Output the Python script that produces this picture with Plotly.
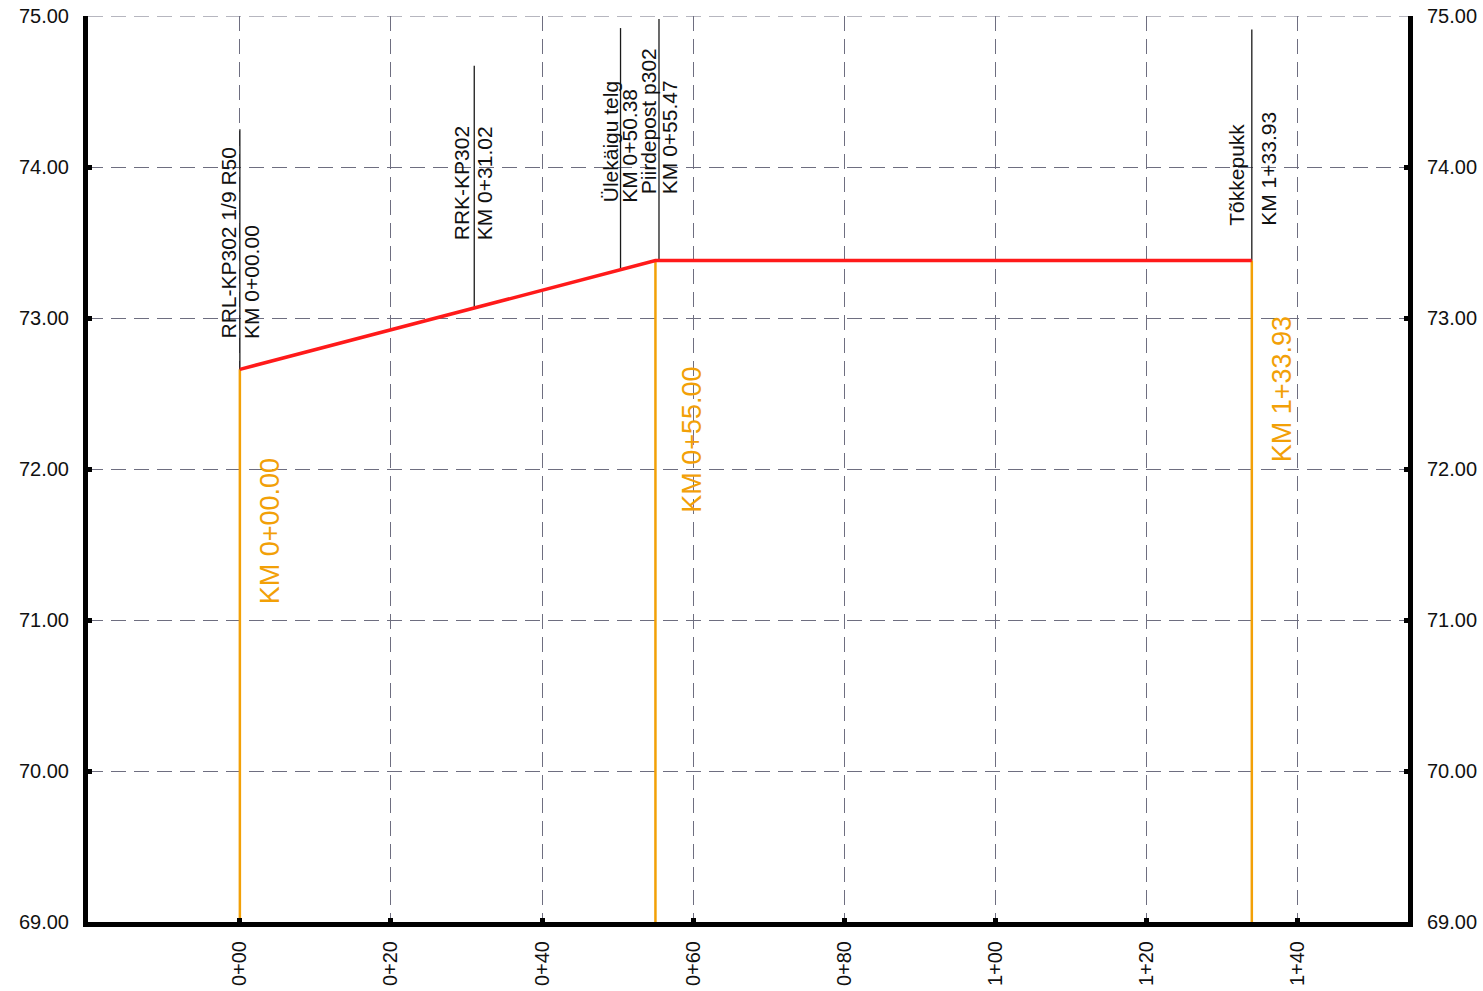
import numpy as np
import plotly.graph_objects as go

# ---- data ----
profile_ch = [0.0, 55.0, 133.93]
profile_el = [72.66, 73.38, 73.38]

marker_ch = [0.0, 31.02, 50.38, 55.47, 133.93]
marker_top = [74.25, 74.67, 74.92, 74.98, 74.91]
marker_name = ["RRL-KP302 1/9 R50", "RRK-KP302", "Ülekäigu telg", "Piirdepost p302", "Tõkkepukk"]
marker_km = ["KM 0+00.00", "KM 0+31.02", "KM 0+50.38", "KM 0+55.47", "KM 1+33.93"]
marker_label_base = [72.85, 73.50, 73.75, 73.81, 73.60]

break_ch = [0.0, 55.0, 133.93]
break_label = ["KM 0+00.00", "KM 0+55.00", "KM 1+33.93"]
break_label_base = [71.09, 71.70, 72.03]

x_tickvals = [0, 20, 40, 60, 80, 100, 120, 140]
x_ticktext = ["0+00", "0+20", "0+40", "0+60", "0+80", "1+00", "1+20", "1+40"]
y_tickvals = [69, 70, 71, 72, 73, 74, 75]

# ---- style ----
FONT = "Arial, Liberation Sans, sans-serif"
ORANGE = "#f2a007"
RED = "#ff1a1a"
GRID = "#6e6e80"
DASH = "15px,8px"
name_xshift = [2, 1, 3, 3, -2]
km_xshift = [-2, -3, -4, -3, 3]
break_xshift = [14, 20, 14]

fig = go.Figure()

# orange vertical lines at grade breaks
for ch in break_ch:
    el = float(np.interp(ch, profile_ch, profile_el))
    fig.add_trace(go.Scatter(x=[ch, ch], y=[69, el], mode="lines",
                             line=dict(color=ORANGE, width=2.5),
                             hoverinfo="skip", showlegend=False))

# black marker lines
for ch, top in zip(marker_ch, marker_top):
    el = float(np.interp(ch, profile_ch, profile_el))
    fig.add_trace(go.Scatter(x=[ch, ch], y=[el, top], mode="lines",
                             line=dict(color="#1a1a1a", width=1.3),
                             hoverinfo="skip", showlegend=False))

# profile
fig.add_trace(go.Scatter(x=profile_ch, y=profile_el, mode="lines",
                         line=dict(color=RED, width=3.5),
                         hoverinfo="skip", showlegend=False))

# dummy trace for right axis
fig.add_trace(go.Scatter(x=[profile_ch[0]], y=[profile_el[0]], yaxis="y2",
                         mode="markers", marker=dict(opacity=0),
                         hoverinfo="skip", showlegend=False))

annotations = []
for i, (ch, name, km, base) in enumerate(zip(marker_ch, marker_name, marker_km, marker_label_base)):
    annotations.append(dict(x=ch, y=base, xref="x", yref="y", text=name,
                            textangle=-90, showarrow=False, xanchor="right",
                            yanchor="bottom", xshift=name_xshift[i],
                            font=dict(family=FONT, size=21, color="#111111")))
    annotations.append(dict(x=ch, y=base, xref="x", yref="y", text=km,
                            textangle=-90, showarrow=False, xanchor="left",
                            yanchor="bottom", xshift=km_xshift[i],
                            font=dict(family=FONT, size=21, color="#111111")))
for ch, lab, base, xs in zip(break_ch, break_label, break_label_base, break_xshift):
    annotations.append(dict(x=ch, y=base, xref="x", yref="y", text=lab,
                            textangle=-90, showarrow=False, xanchor="left",
                            yanchor="bottom", xshift=xs,
                            font=dict(family=FONT, size=27, color=ORANGE)))

yaxis_common = dict(range=[69, 75], tickvals=y_tickvals, tickformat=".2f",
                    showline=True, linecolor="black", linewidth=5,
                    ticks="inside", ticklen=4, tickwidth=5, tickcolor="black",
                    tickfont=dict(family=FONT, size=20, color="#111111"),
                    zeroline=False, automargin=False)

fig.update_layout(
    width=1483, height=991,
    margin=dict(l=88, r=75, t=16, b=69),
    plot_bgcolor="white", paper_bgcolor="white",
    showlegend=False,
    xaxis=dict(range=[-20.1, 154.6], tickvals=x_tickvals, ticktext=x_ticktext,
               tickangle=-90, showline=True, linecolor="black", linewidth=5,
               ticks="inside", ticklen=4, tickwidth=5, tickcolor="black",
               showgrid=True, gridcolor=GRID, gridwidth=1, griddash=DASH,
               zeroline=False, ticklabelstandoff=6, automargin=False,
               tickfont=dict(family=FONT, size=20, color="#111111")),
    yaxis=dict(**yaxis_common, showgrid=True, gridcolor=GRID, gridwidth=1,
               griddash=DASH, side="left", ticklabelstandoff=10),
    yaxis2=dict(**yaxis_common, showgrid=False, overlaying="y", side="right",
                ticklabelstandoff=10),
    annotations=annotations,
    shapes=[dict(type="line", xref="paper", yref="y", x0=0, x1=1,
                 y0=y_tickvals[-1], y1=y_tickvals[-1], layer="below",
                 line=dict(color=GRID, width=1, dash=DASH))],
)

fig.write_html("out.html",
               config={"displayModeBar": False},
               post_script="document.body.style.margin='0';"
                           "document.body.style.overflow='hidden';")
